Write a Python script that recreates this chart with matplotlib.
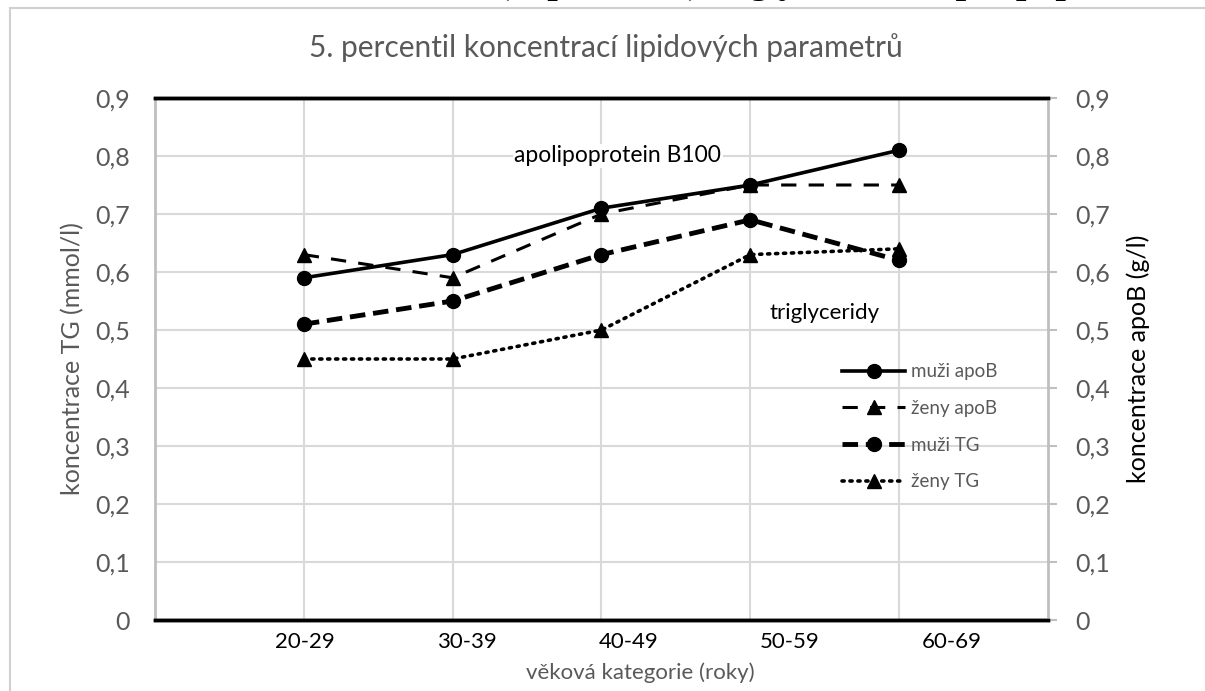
import numpy as np
import matplotlib.pyplot as plt
from matplotlib.patches import Rectangle

plt.rcParams['font.family'] = ['Lato', 'DejaVu Sans']

# age groups and 5th percentile values
age_groups = ['20-29', '30-39', '40-49', '50-59', '60-69']
muzi_apoB = [0.59, 0.63, 0.71, 0.75, 0.81]
zeny_apoB = [0.63, 0.59, 0.70, 0.75, 0.75]
muzi_TG = [0.51, 0.55, 0.63, 0.69, 0.62]
zeny_TG = [0.45, 0.45, 0.50, 0.63, 0.64]

grey = '#595959'
W, H = 1205, 691

fig = plt.figure(figsize=(W / 100, H / 100), dpi=100)
fig.patch.set_facecolor('white')

# outer chart frame
fig.patches.append(Rectangle((10 / W, -0.1), 1.2, 1 - 8 / H + 0.1, transform=fig.transFigure,
                             fill=False, edgecolor='#d0d0d0', linewidth=1.5))

# caption of the figure above, only its lower edge is on the page
fig.text(0.5, 1 + 17 / H, 'Obrázek 5. Referenční koncentrace (5. percentil) triglyceridů a apolipoproteinu B100',
         ha='center', va='center', fontsize=27, fontweight='bold', family='Liberation Serif')

ax = fig.add_axes([155 / W, 1 - 620 / H, (1048 - 155) / W, (620 - 98) / H])
ax2 = ax.twinx()

x = np.arange(len(age_groups))

# primary axis: triglycerides
l3, = ax.plot(x, muzi_TG, color='black', lw=3.5, dashes=(3.2, 1.6), marker='o', ms=10,
              label='muži TG')
l4, = ax.plot(x, zeny_TG, color='black', lw=2.6, linestyle=(0, (0.6, 1.6)), dash_capstyle='round',
              marker='^', ms=10, label='ženy TG')

# secondary axis: apolipoprotein B100
l1, = ax2.plot(x, muzi_apoB, color='black', lw=2.6, marker='o', ms=10, label='muži apoB')
l2, = ax2.plot(x, zeny_apoB, color='black', lw=2.2, dashes=(5, 4), marker='^', ms=10,
               label='ženy apoB')

for a in (ax, ax2):
    a.set_xlim(-1, 5)
    a.set_ylim(0, 0.9)
    a.set_yticks(np.arange(0, 0.91, 0.1))
    a.set_yticklabels(['0'] + ['0,%d' % i for i in range(1, 10)])

ax.grid(axis='y', color='#d9d9d9', lw=1.5)
ax.set_xticks(x, minor=True)
ax.grid(axis='x', which='minor', color='#d9d9d9', lw=1.5)
ax.tick_params(axis='x', which='minor', length=0)

# category labels
label_step = 1.085
ax.set_xticks(x * label_step + 0.01)
ax.set_xticklabels(age_groups)
ax.tick_params(axis='x', which='major', length=0, labelsize=16, pad=9, labelcolor='black')
ax.tick_params(axis='y', length=0, labelsize=18, labelcolor=grey, pad=18)
ax2.tick_params(axis='y', length=6.5, width=1.5, color='#bfbfbf', labelsize=18, labelcolor=grey, pad=13)

ax.spines['left'].set_color('#bfbfbf')
ax.spines['left'].set_linewidth(2)
ax2.spines['left'].set_visible(False)
ax2.spines['right'].set_color('#bfbfbf')
ax2.spines['right'].set_linewidth(2)
for a in (ax, ax2):
    a.spines['top'].set_color('black')
    a.spines['top'].set_linewidth(2.5)
    a.spines['bottom'].set_color('black')
    a.spines['bottom'].set_linewidth(2.5)
ax.spines['right'].set_visible(False)

ax.set_ylabel('koncentrace TG (mmol/l)', fontsize=18, color=grey, labelpad=8)
ax2.set_ylabel('koncentrace apoB (g/l)', fontsize=18, color='black', labelpad=12)
ax.set_xlabel('věková kategorie (roky)', fontsize=16, color=grey)
ax.xaxis.set_label_coords(0.544, -0.082)

fig.text(606 / W, 1 - 48 / H, '5. percentil koncentrací lipidových parametrů',
         ha='center', va='center', fontsize=21.5, color=grey)

ax.text(2.11, 0.8, 'apolipoprotein B100', ha='center', va='center', fontsize=16.5,
        bbox=dict(facecolor='white', edgecolor='none', pad=1))
ax.text(3.5, 0.53, 'triglyceridy', ha='center', va='center', fontsize=16)

ax2.legend(handles=[l1, l2, l3, l4], loc='upper left', bbox_to_anchor=(0.75, 0.524),
           frameon=False, fontsize=13.5, labelcolor=grey, handlelength=3.4,
           labelspacing=1.05, handletextpad=0.3)

fig.savefig('out.png', dpi=100, facecolor='white')
